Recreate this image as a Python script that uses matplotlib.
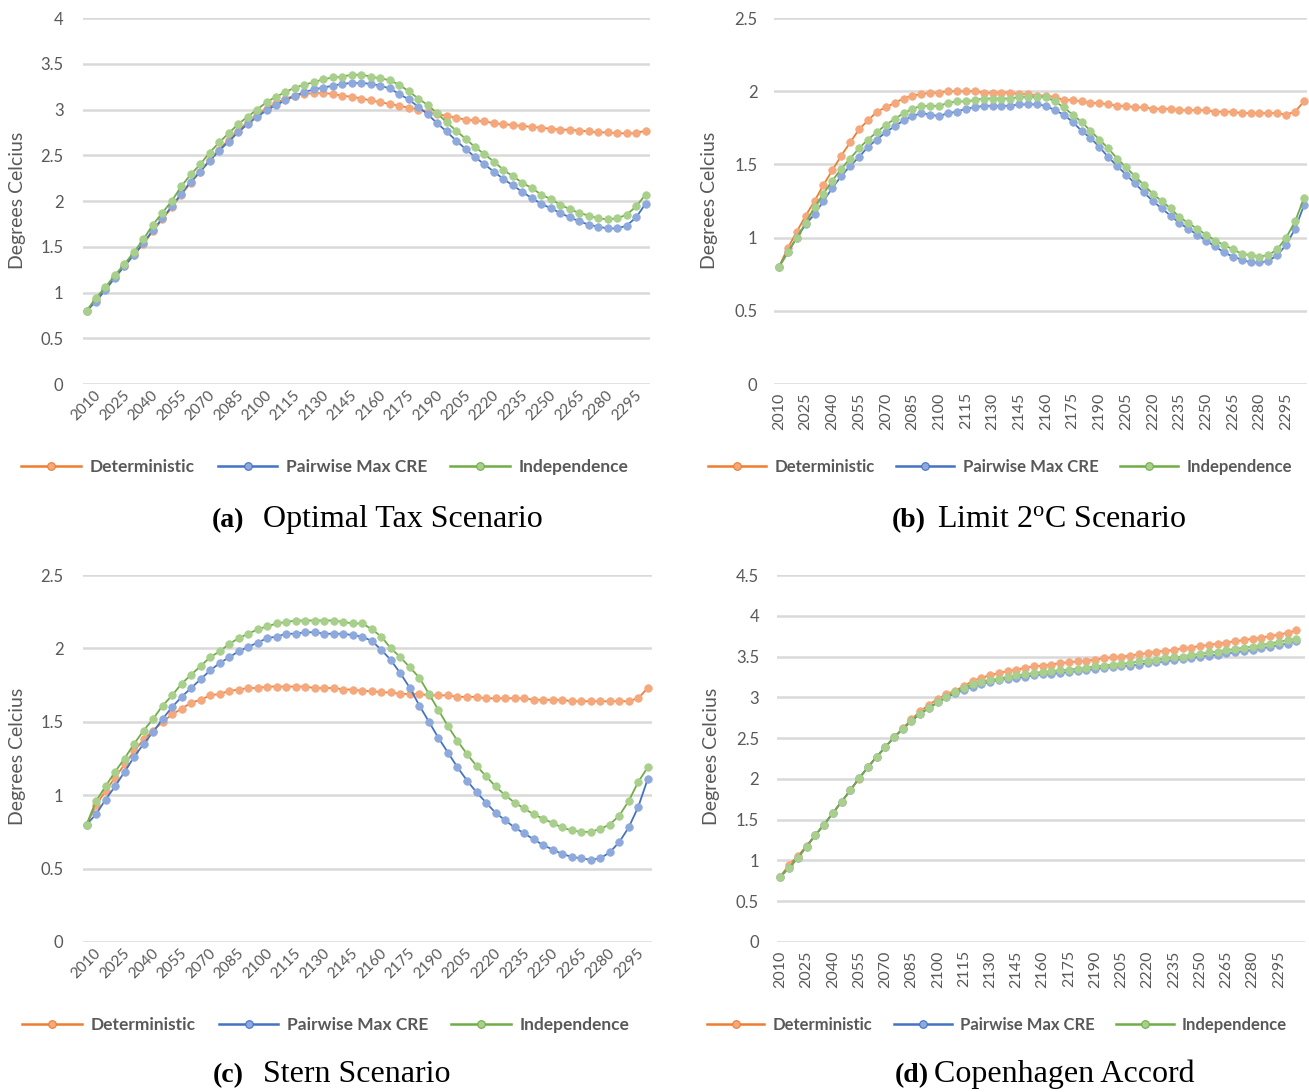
import matplotlib
matplotlib.use('Agg')
import matplotlib.pyplot as plt
from matplotlib.lines import Line2D

# ---------------- data ----------------
years = [2010, 2015, 2020, 2025, 2030, 2035, 2040, 2045, 2050, 2055,
         2060, 2065, 2070, 2075, 2080, 2085, 2090, 2095, 2100, 2105,
         2110, 2115, 2120, 2125, 2130, 2135, 2140, 2145, 2150, 2155,
         2160, 2165, 2170, 2175, 2180, 2185, 2190, 2195, 2200, 2205,
         2210, 2215, 2220, 2225, 2230, 2235, 2240, 2245, 2250, 2255,
         2260, 2265, 2270, 2275, 2280, 2285, 2290, 2295, 2300, 2305]

series_names = ["Deterministic", "Pairwise Max CRE", "Independence"]

# (a) Optimal Tax Scenario
a_det = [0.80, 0.92, 1.04, 1.17, 1.29, 1.41, 1.53, 1.67, 1.80, 1.93,
         2.07, 2.20, 2.32, 2.45, 2.56, 2.67, 2.77, 2.86, 2.94, 3.01,
         3.07, 3.12, 3.15, 3.17, 3.18, 3.18, 3.17, 3.15, 3.14, 3.12,
         3.10, 3.08, 3.06, 3.04, 3.02, 3.00, 2.97, 2.95, 2.93, 2.91,
         2.89, 2.88, 2.87, 2.85, 2.84, 2.83, 2.82, 2.81, 2.80, 2.79,
         2.78, 2.78, 2.77, 2.76, 2.75, 2.75, 2.74, 2.74, 2.74, 2.77]
a_pw = [0.80, 0.90, 1.03, 1.16, 1.29, 1.41, 1.54, 1.68, 1.81, 1.94,
        2.08, 2.21, 2.32, 2.44, 2.55, 2.65, 2.75, 2.84, 2.92, 2.99,
        3.05, 3.10, 3.15, 3.19, 3.22, 3.24, 3.26, 3.28, 3.29, 3.29,
        3.28, 3.26, 3.23, 3.17, 3.11, 3.03, 2.95, 2.85, 2.76, 2.66,
        2.57, 2.48, 2.40, 2.32, 2.24, 2.17, 2.10, 2.03, 1.97, 1.92,
        1.87, 1.82, 1.78, 1.74, 1.72, 1.70, 1.70, 1.73, 1.82, 1.97]
a_ind = [0.80, 0.94, 1.06, 1.19, 1.31, 1.44, 1.58, 1.74, 1.87, 2.00,
         2.16, 2.29, 2.40, 2.53, 2.64, 2.74, 2.84, 2.92, 3.00, 3.08,
         3.14, 3.19, 3.24, 3.27, 3.30, 3.33, 3.35, 3.36, 3.38, 3.38,
         3.36, 3.34, 3.32, 3.27, 3.20, 3.12, 3.05, 2.96, 2.86, 2.77,
         2.68, 2.59, 2.51, 2.43, 2.34, 2.27, 2.20, 2.14, 2.07, 2.02,
         1.96, 1.91, 1.87, 1.84, 1.81, 1.80, 1.81, 1.85, 1.94, 2.07]

# (b) Limit 2oC Scenario
b_det = [0.80, 0.93, 1.04, 1.15, 1.25, 1.36, 1.46, 1.56, 1.65, 1.74,
         1.80, 1.86, 1.89, 1.92, 1.95, 1.97, 1.98, 1.99, 1.99, 2.00,
         2.00, 2.00, 2.00, 1.99, 1.99, 1.99, 1.99, 1.98, 1.98, 1.97,
         1.97, 1.96, 1.94, 1.94, 1.93, 1.92, 1.92, 1.91, 1.90, 1.90,
         1.89, 1.89, 1.88, 1.88, 1.88, 1.87, 1.87, 1.87, 1.87, 1.86,
         1.86, 1.86, 1.85, 1.85, 1.85, 1.85, 1.85, 1.84, 1.86, 1.93]
b_pw = [0.80, 0.90, 1.00, 1.09, 1.16, 1.25, 1.34, 1.42, 1.49, 1.55,
        1.62, 1.67, 1.72, 1.76, 1.80, 1.83, 1.85, 1.84, 1.83, 1.85,
        1.86, 1.88, 1.89, 1.90, 1.90, 1.90, 1.90, 1.91, 1.91, 1.91,
        1.90, 1.87, 1.84, 1.79, 1.73, 1.68, 1.62, 1.55, 1.49, 1.43,
        1.37, 1.31, 1.25, 1.20, 1.15, 1.10, 1.06, 1.02, 0.98, 0.94,
        0.90, 0.87, 0.85, 0.83, 0.83, 0.84, 0.88, 0.95, 1.06, 1.22]
b_ind = [0.80, 0.90, 1.00, 1.10, 1.21, 1.30, 1.39, 1.47, 1.54, 1.61,
         1.67, 1.72, 1.77, 1.81, 1.85, 1.88, 1.90, 1.90, 1.90, 1.92,
         1.93, 1.93, 1.94, 1.95, 1.95, 1.95, 1.95, 1.96, 1.96, 1.96,
         1.96, 1.93, 1.89, 1.84, 1.79, 1.73, 1.67, 1.61, 1.54, 1.48,
         1.42, 1.36, 1.30, 1.25, 1.20, 1.14, 1.10, 1.06, 1.02, 0.98,
         0.95, 0.92, 0.89, 0.88, 0.87, 0.88, 0.92, 1.00, 1.11, 1.27]

# (c) Stern Scenario
c_det = [0.80, 0.93, 1.03, 1.12, 1.21, 1.30, 1.38, 1.44, 1.50, 1.55,
         1.59, 1.63, 1.65, 1.68, 1.69, 1.71, 1.72, 1.73, 1.73, 1.74,
         1.74, 1.74, 1.74, 1.74, 1.73, 1.73, 1.73, 1.72, 1.72, 1.71,
         1.71, 1.70, 1.70, 1.69, 1.69, 1.69, 1.68, 1.68, 1.68, 1.67,
         1.67, 1.67, 1.66, 1.66, 1.66, 1.66, 1.66, 1.65, 1.65, 1.65,
         1.65, 1.64, 1.64, 1.64, 1.64, 1.64, 1.64, 1.64, 1.66, 1.73]
c_pw = [0.80, 0.87, 0.97, 1.06, 1.16, 1.26, 1.35, 1.43, 1.52, 1.60,
        1.67, 1.73, 1.79, 1.85, 1.90, 1.94, 1.98, 2.01, 2.04, 2.07,
        2.08, 2.10, 2.10, 2.11, 2.11, 2.10, 2.10, 2.10, 2.09, 2.08,
        2.05, 1.99, 1.92, 1.83, 1.73, 1.61, 1.50, 1.39, 1.29, 1.19,
        1.10, 1.02, 0.95, 0.88, 0.83, 0.78, 0.74, 0.70, 0.66, 0.63,
        0.60, 0.58, 0.57, 0.56, 0.57, 0.61, 0.68, 0.78, 0.92, 1.11]
c_ind = [0.80, 0.96, 1.06, 1.16, 1.25, 1.35, 1.44, 1.52, 1.61, 1.68,
         1.76, 1.82, 1.88, 1.94, 1.98, 2.03, 2.07, 2.10, 2.13, 2.15,
         2.17, 2.18, 2.19, 2.19, 2.19, 2.19, 2.19, 2.18, 2.17, 2.17,
         2.13, 2.08, 2.00, 1.94, 1.87, 1.80, 1.69, 1.58, 1.47, 1.37,
         1.28, 1.20, 1.13, 1.06, 1.00, 0.95, 0.91, 0.87, 0.84, 0.81,
         0.78, 0.76, 0.75, 0.75, 0.77, 0.80, 0.86, 0.96, 1.09, 1.19]

# (d) Copenhagen Accord
d_det = [0.80, 0.95, 1.05, 1.18, 1.31, 1.44, 1.58, 1.72, 1.86, 2.00,
         2.14, 2.27, 2.39, 2.51, 2.62, 2.73, 2.83, 2.91, 2.98, 3.04,
         3.08, 3.14, 3.20, 3.24, 3.27, 3.30, 3.32, 3.34, 3.36, 3.38,
         3.39, 3.40, 3.42, 3.43, 3.44, 3.45, 3.46, 3.48, 3.49, 3.50,
         3.51, 3.53, 3.54, 3.56, 3.57, 3.58, 3.60, 3.61, 3.63, 3.64,
         3.66, 3.67, 3.69, 3.70, 3.72, 3.73, 3.75, 3.77, 3.79, 3.82]
d_pw = [0.80, 0.91, 1.03, 1.17, 1.31, 1.44, 1.58, 1.72, 1.86, 2.01,
        2.14, 2.27, 2.39, 2.51, 2.61, 2.71, 2.80, 2.87, 2.94, 3.00,
        3.05, 3.09, 3.13, 3.16, 3.19, 3.21, 3.23, 3.24, 3.25, 3.27,
        3.28, 3.29, 3.30, 3.31, 3.32, 3.33, 3.35, 3.36, 3.37, 3.38,
        3.39, 3.40, 3.42, 3.43, 3.44, 3.46, 3.47, 3.48, 3.50, 3.51,
        3.52, 3.54, 3.55, 3.57, 3.58, 3.60, 3.62, 3.64, 3.66, 3.69]
d_ind = [0.80, 0.91, 1.03, 1.17, 1.31, 1.44, 1.58, 1.72, 1.86, 2.01,
         2.14, 2.27, 2.39, 2.51, 2.61, 2.71, 2.80, 2.87, 2.94, 3.00,
         3.07, 3.12, 3.16, 3.19, 3.21, 3.23, 3.25, 3.27, 3.28, 3.30,
         3.31, 3.32, 3.33, 3.34, 3.35, 3.36, 3.38, 3.39, 3.40, 3.41,
         3.42, 3.44, 3.45, 3.46, 3.48, 3.49, 3.50, 3.52, 3.53, 3.55,
         3.56, 3.58, 3.59, 3.61, 3.62, 3.64, 3.66, 3.68, 3.70, 3.72]

a_yticks = [0, 0.5, 1, 1.5, 2, 2.5, 3, 3.5, 4]
b_yticks = [0, 0.5, 1, 1.5, 2, 2.5]
c_yticks = [0, 0.5, 1, 1.5, 2, 2.5]
d_yticks = [0, 0.5, 1, 1.5, 2, 2.5, 3, 3.5, 4, 4.5]

captions = [("(a)", "Optimal Tax Scenario"),
            ("(b)", r"Limit 2$^{\mathrm{o}}$C Scenario"),
            ("(c)", "Stern Scenario"),
            ("(d)", "Copenhagen Accord")]

# ---------------- style ----------------
plt.rcParams['mathtext.fontset'] = 'custom'
plt.rcParams['mathtext.rm'] = 'Liberation Serif'
plt.rcParams['mathtext.it'] = 'Liberation Serif:italic'
plt.rcParams['mathtext.bf'] = 'Liberation Serif:bold'

line_colors = ['#ED7D31', '#4472C4', '#70AD47']
marker_colors = ['#F4A87C', '#8EA9DB', '#A8CF8C']
txt_color = '#595959'
grid_color = '#D9D9D9'
sans = 'Lato'
serif = 'Liberation Serif'

W, H = 1309, 1092
fig = plt.figure(figsize=(W / 100, H / 100), dpi=100)


def rect(l, r, t, b):
    return [l / W, 1 - b / H, (r - l) / W, (b - t) / H]


panels = [
    dict(rect=rect(83, 650, 18, 384), xlim=(-0.37, 59.47), yticks=a_yticks,
         data=(a_det, a_pw, a_ind), rot=45, xpad=3, ypad=14,
         ylab=(18, 200), leg=(325, 467), legsize=12.5, cap=(244, 263, 527)),
    dict(rect=rect(774, 1307, 18, 384), xlim=(-0.56, 59.34), yticks=b_yticks,
         data=(b_det, b_pw, b_ind), rot=90, xpad=6, ypad=12,
         ylab=(710, 200), leg=(1000, 467), legsize=12.1, cap=(926, 937, 527)),
    dict(rect=rect(83, 652, 575, 942), xlim=(-0.37, 59.45), yticks=c_yticks,
         data=(c_det, c_pw, c_ind), rot=45, xpad=3, ypad=14,
         ylab=(18, 756), leg=(326, 1025), legsize=12.5, cap=(244, 263, 1082)),
    dict(rect=rect(777, 1305, 575, 942), xlim=(-0.38, 60.0), yticks=d_yticks,
         data=(d_det, d_pw, d_ind), rot=90, xpad=6, ypad=13,
         ylab=(712, 756), leg=(997, 1025), legsize=12.0, cap=(929, 934, 1082)),
]

x = list(range(len(years)))
tick_idx = x[::3][:20]
tick_lab = [str(years[i]) for i in tick_idx]

for p, (cap_lab, cap_txt) in zip(panels, captions):
    ax = fig.add_axes(p['rect'])
    for vals, lc, mc, name in zip(p['data'], line_colors, marker_colors, series_names):
        ax.plot(x, vals, color=lc, lw=1.3, marker='o', ms=5.4,
                mfc=mc, mec=mc, mew=0.6, label=name, clip_on=False)
    ax.set_xlim(*p['xlim'])
    ax.set_ylim(p['yticks'][0], p['yticks'][-1])
    ax.set_yticks(p['yticks'])
    ax.set_yticklabels([f"{v:g}" for v in p['yticks']], fontsize=12,
                       color=txt_color, family=sans)
    ax.set_xticks(tick_idx)
    if p['rot'] == 45:
        ax.set_xticklabels(tick_lab, rotation=45, ha='center', va='top',
                           fontsize=11, color=txt_color, family=sans)
    else:
        ax.set_xticklabels(tick_lab, rotation=90, ha='center', va='top',
                           fontsize=11.5, color=txt_color, family=sans)
    ax.tick_params(axis='both', length=0)
    ax.tick_params(axis='x', pad=p['xpad'])
    ax.tick_params(axis='y', pad=p['ypad'])
    ax.grid(axis='y', color=grid_color, lw=1.8)
    ax.grid(axis='x', visible=False)
    ax.set_axisbelow(True)
    for s in ax.spines.values():
        s.set_visible(False)

    fig.text(p['ylab'][0] / W, 1 - p['ylab'][1] / H, 'Degrees Celcius',
             rotation=90, ha='center', va='center', fontsize=14,
             color=txt_color, family=sans)

    handles = [Line2D([0], [0], color=lc, lw=1.8, marker='o', ms=5.5,
                      mfc=mc, mec=lc, mew=0.8)
               for lc, mc in zip(line_colors, marker_colors)]
    leg = ax.legend(handles, series_names, loc='center',
                    bbox_to_anchor=(p['leg'][0] / W, 1 - p['leg'][1] / H),
                    bbox_transform=fig.transFigure, ncol=3, frameon=False,
                    handlelength=3.45, handletextpad=0.5, columnspacing=1.3,
                    prop=dict(family=sans, weight='bold', size=p['legsize']))
    for t in leg.get_texts():
        t.set_color(txt_color)

    cx_lab, cx_txt, cy = p['cap']
    fig.text(cx_lab / W, 1 - cy / H, cap_lab, ha='right', va='baseline',
             fontsize=20, fontweight='bold', family=serif, color='black')
    fig.text(cx_txt / W, 1 - cy / H, cap_txt, ha='left', va='baseline',
             fontsize=23, family=serif, color='black')

fig.savefig('out.png', dpi=100, facecolor='white')
